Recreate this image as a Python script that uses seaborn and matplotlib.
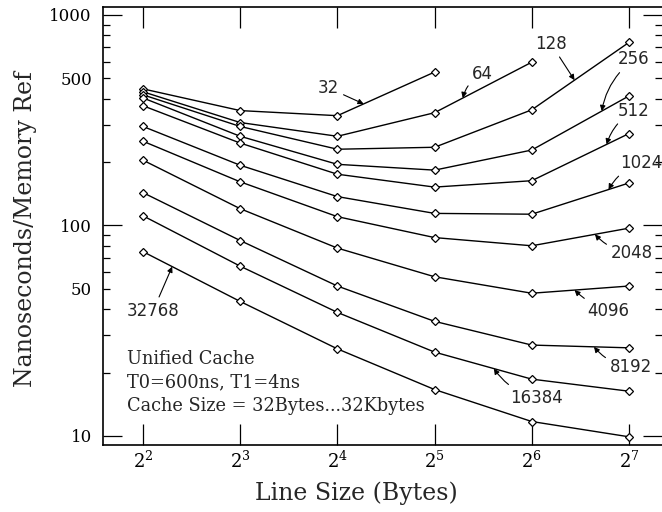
import numpy as np
import pandas as pd
import matplotlib
matplotlib.use('Agg')
import matplotlib.pyplot as plt
from matplotlib.ticker import FixedLocator, FuncFormatter
import seaborn as sns

# Line sizes (bytes) on the x axis
line_sizes = [4, 8, 16, 32, 64, 128]

# Nanoseconds per memory reference, one list per cache size (bytes)
ns_32 = [445, 351, 332, 535]
ns_64 = [431, 308, 265, 343, 596]
ns_128 = [417, 295, 230, 235, 354, 740]
ns_256 = [403, 265, 195, 183, 228, 412]
ns_512 = [370, 246, 175, 152, 163, 273]
ns_1024 = [295, 193, 137, 114, 113, 159]
ns_2048 = [251, 161, 110, 87.5, 80, 97]
ns_4096 = [204, 120, 78, 57, 47.6, 51.5]
ns_8192 = [143, 84.7, 51.5, 35, 27, 26.2]
ns_16384 = [111, 64, 38.6, 25, 18.6, 16.3]
ns_32768 = [75, 43.5, 25.9, 16.6, 11.7, 9.9]

cache_sizes = [32, 64, 128, 256, 512, 1024, 2048, 4096, 8192, 16384, 32768]
series = [ns_32, ns_64, ns_128, ns_256, ns_512, ns_1024, ns_2048,
          ns_4096, ns_8192, ns_16384, ns_32768]

rows = []
for size, vals in zip(cache_sizes, series):
    for ls, v in zip(line_sizes, vals):
        rows.append({'cache': size, 'line': ls, 'ns': v})
df = pd.DataFrame(rows)

sns.set_style('ticks')
plt.rcParams['font.family'] = ['DejaVu Serif']
plt.rcParams['mathtext.fontset'] = 'dejavuserif'

fig = plt.figure(figsize=(6.62, 5.12), dpi=100)
ax = fig.add_axes([103 / 662, 1 - 445 / 512, 559 / 662, 438 / 512])

sns.lineplot(data=df, x='line', y='ns', units='cache', estimator=None,
             color='black', linewidth=1.0, marker='D', markersize=4.5,
             markerfacecolor='white', markeredgecolor='black',
             markeredgewidth=0.9, ax=ax, sort=False)

ax.set_xscale('log', base=2)
ax.set_yscale('log')
ax.set_xlim(2 ** 1.588, 2 ** 7.34)
ax.set_ylim(9.05, 1090)

# x ticks
ax.xaxis.set_major_locator(FixedLocator(line_sizes))
ax.xaxis.set_major_formatter(FuncFormatter(lambda v, p: r'$2^{%d}$' % round(np.log2(v))))
ax.xaxis.set_minor_locator(FixedLocator([]))

# y ticks
ax.yaxis.set_major_locator(FixedLocator([10, 100, 1000]))
ax.yaxis.set_major_formatter(FuncFormatter(lambda v, p: '%d' % v))
minors = [m * d for d in (10, 100) for m in range(2, 10)]
ax.yaxis.set_minor_locator(FixedLocator(minors))
ax.yaxis.set_minor_formatter(FuncFormatter(lambda v, p: '%d' % v if v in (50, 500) else ''))

ax.tick_params(axis='x', which='major', direction='in', length=15, width=0.9,
               top=True, bottom=True, labelsize=13, pad=4, colors='black')
ax.tick_params(axis='y', which='major', direction='in', length=14, width=0.9,
               left=True, right=True, labelsize=12, pad=8, colors='black')
ax.tick_params(axis='y', which='minor', direction='in', length=5, width=0.9,
               left=True, right=True, labelsize=12, pad=8, colors='black')

for sp in ax.spines.values():
    sp.set_linewidth(1.2)
    sp.set_color('black')
ax.spines['right'].set_visible(False)

ax.set_xlabel('Line Size (Bytes)', fontsize=17)
ax.set_ylabel('Nanoseconds/Memory Ref', fontsize=17)
ax.xaxis.set_label_coords(0.453, -0.084)
ax.yaxis.set_label_coords(-0.118, 0.493)


def tip(vals, seg, frac):
    lx0, lx1 = np.log2(line_sizes[seg]), np.log2(line_sizes[seg + 1])
    ly0, ly1 = np.log10(vals[seg]), np.log10(vals[seg + 1])
    return 2 ** (lx0 + frac * (lx1 - lx0)), 10 ** (ly0 + frac * (ly1 - ly0))


# label, text position (data), segment, fraction along it, curvature
labels = [
    (32, 15.0, 450, 2, 0.27, 0.0),
    (64, 45.1, 522, 3, 0.29, 0.25),
    (128, 73.3, 731, 4, 0.44, 0.0),
    (256, 132.7, 615, 4, 0.72, 0.2),
    (512, 132.7, 351, 4, 0.77, 0.2),
    (1024, 139.5, 198, 4, 0.79, 0.2),
    (2048, 130.8, 74.2, 4, 0.65, -0.2),
    (4096, 110.2, 39.0, 4, 0.44, -0.1),
    (8192, 129.9, 21.2, 4, 0.64, -0.2),
    (16384, 66.4, 15.2, 3, 0.61, -0.2),
    (32768, 4.30, 39.4, 0, 0.30, 0.0),
]
for size, tx, ty, seg, frac, rad in labels:
    vals = series[cache_sizes.index(size)]
    ax.annotate(str(size), xy=tip(vals, seg, frac), xytext=(tx, ty),
                ha='center', va='center', fontsize=12, family='DejaVu Sans',
                arrowprops=dict(arrowstyle='-|>', color='black', lw=0.8,
                                mutation_scale=8, shrinkA=1, shrinkB=0,
                                connectionstyle='arc3,rad=%s' % rad))

note = ['Unified Cache', 'T0=600ns, T1=4ns', 'Cache Size = 32Bytes...32Kbytes']
for i, line in enumerate(note):
    ax.text((127 - 103) / 559, (445 - 359 - 23.5 * i) / 438, line,
            transform=ax.transAxes, ha='left', va='center', fontsize=12.8)

fig.savefig('out.png', dpi=100)
